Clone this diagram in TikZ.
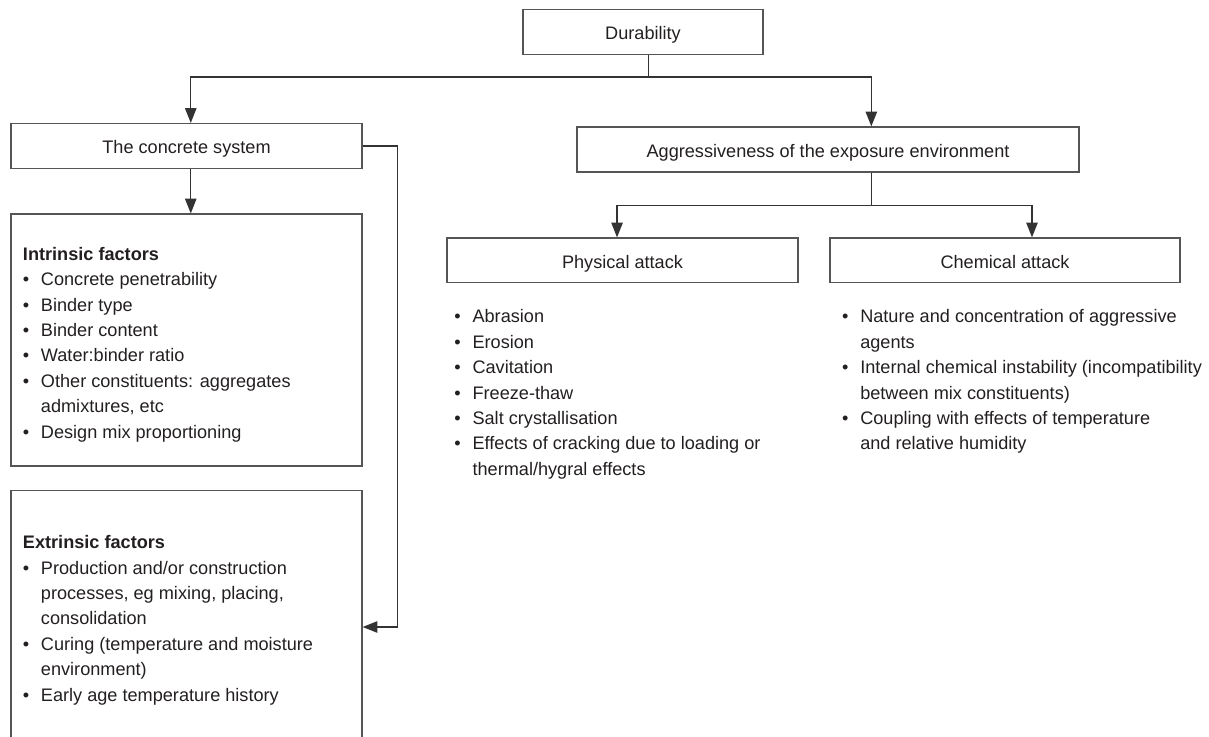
\documentclass[tikz,border=0pt]{standalone}
\usepackage{fontspec}
\setmainfont{Liberation Sans}
\usetikzlibrary{arrows.meta,calc}
\definecolor{txc}{HTML}{231F20}
\definecolor{bdc}{HTML}{555555}
\definecolor{lnc}{HTML}{333333}
\newcommand\bl{\llap{\textbullet\hspace{8.8pt}}}
\tikzset{
  fnt/.style={font=\fontsize{13.6}{19}\selectfont, text=txc},
  boxnode/.style={fnt, draw=bdc, line width=0.9pt, inner sep=0pt, text height=12pt, text depth=0pt},
  txt/.style={fnt, anchor=base west, inner sep=0pt, yshift=-0.75pt},
  ln/.style={draw=lnc, line width=0.9pt},
  arr/.style={ln, -{Triangle[length=11pt,width=8.5pt]}}
}
\begin{document}
\begin{tikzpicture}[x=0.75pt,y=-0.75pt]
\useasboundingbox (0,0) rectangle (1209,737);
\clip (0,0) rectangle (1209,737);
% boxes
\node[boxnode, minimum width=180pt, minimum height=33.75pt] (dur) at (643,32) {Durability};
\node[boxnode, minimum width=263.25pt, minimum height=33.75pt] (cs) at (186.5,146) {The concrete system};
\node[boxnode, minimum width=376.5pt, minimum height=33.75pt] (agg) at (828,149.5) {Aggressiveness of the exposure environment};
\node[boxnode, minimum width=263.25pt, minimum height=33.4pt] (phys) at (622.5,260.25) {Physical attack};
\node[boxnode, minimum width=262.5pt, minimum height=33.4pt] (chem) at (1005,260.25) {Chemical attack};
\node[draw=bdc, line width=0.9pt, inner sep=0pt, minimum width=263.25pt, minimum height=189pt] (intr) at (186.5,340) {};
\node[draw=bdc, line width=0.9pt, inner sep=0pt, minimum width=263.25pt, minimum height=204.75pt] (ext) at (186.5,627) {};
% connectors
\draw[ln] ([xshift=4pt]dur.south) -- ++(0,22) coordinate (dj);
\draw[arr] (dj) -| ([xshift=3.2pt]cs.north);
\draw[arr] (dj) -| ([xshift=32.5pt]agg.north);
\draw[arr] ([xshift=3.2pt]cs.south) -- ([xshift=3.2pt]intr.north);
\draw[arr] (cs.east) -- ++(35,0) |- (ext.east);
\draw[ln] ([xshift=32.5pt]agg.south) -- ++(0,33) coordinate (aj);
\draw[arr] (aj) -| ([xshift=-4.1pt]phys.north);
\draw[arr] (aj) -| ([xshift=20.25pt]chem.north);
% intrinsic factors
\node[txt] (it) at (22.7,259.3) {\bfseries Intrinsic factors};
\node[txt] (i1) at (40.7,284.7) {\bl Concrete penetrability};
\node[txt] (i2) at (40.7,310.1) {\bl Binder type};
\node[txt] (i3) at (40.7,335.5) {\bl Binder content};
\node[txt] (i4) at (40.7,360.9) {\bl Water:binder ratio};
\node[txt] (i5) at (40.7,386.3) {\bl Other constituents: aggregates};
\node[txt] (i6) at (40.7,411.7) {admixtures, etc};
\node[txt] (i7) at (40.7,437.1) {\bl Design mix proportioning};
% extrinsic factors
\node[txt] (et) at (22.7,547.7) {\bfseries Extrinsic factors};
\node[txt] (e1) at (40.7,573.1) {\bl Production and/or construction};
\node[txt] (e2) at (40.7,598.5) {processes, eg mixing, placing,};
\node[txt] (e3) at (40.7,623.9) {consolidation};
\node[txt] (e4) at (40.7,649.3) {\bl Curing (temperature and moisture};
\node[txt] (e5) at (40.7,674.7) {environment)};
\node[txt] (e6) at (40.7,700.1) {\bl Early age temperature history};
% physical attack
\node[txt] (p1) at (472.3,322) {\bl Abrasion};
\node[txt] (p2) at (472.3,347.4) {\bl Erosion};
\node[txt] (p3) at (472.3,372.8) {\bl Cavitation};
\node[txt] (p4) at (472.3,398.2) {\bl Freeze-thaw};
\node[txt] (p5) at (472.3,423.6) {\bl Salt crystallisation};
\node[txt] (p6) at (472.3,449) {\bl Effects of cracking due to loading or};
\node[txt] (p7) at (472.3,474.4) {thermal/hygral effects};
% chemical attack
\node[txt] (c1) at (860,322) {\bl Nature and concentration of aggressive};
\node[txt] (c2) at (860,347.4) {agents};
\node[txt] (c3) at (860,372.8) {\bl Internal chemical instability (incompatibility};
\node[txt] (c4) at (860,398.2) {between mix constituents)};
\node[txt] (c5) at (860,423.6) {\bl Coupling with effects of temperature};
\node[txt] (c6) at (860,449) {and relative humidity};
\end{tikzpicture}
\end{document}
